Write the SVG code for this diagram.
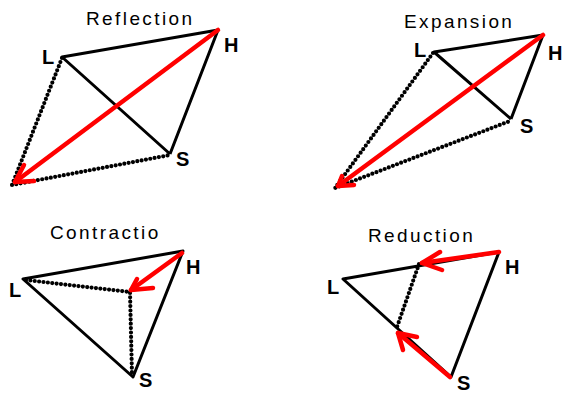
<svg xmlns="http://www.w3.org/2000/svg" width="562" height="394" viewBox="0 0 562 394">
<style>
.t{font-family:"Liberation Sans",Arial,sans-serif;font-size:19px;letter-spacing:2.4px;fill:#000}
.v{font-family:"Liberation Sans",Arial,sans-serif;font-size:20px;font-weight:bold;fill:#000}
.e{stroke:#000;stroke-width:3;fill:none;stroke-linejoin:round}
.d{stroke:#000;stroke-width:4.2;fill:none;stroke-linecap:round;stroke-dasharray:0 4.4}
.r{stroke:#f00;stroke-width:4.5;fill:none;stroke-linecap:round;stroke-linejoin:round}
</style>
<rect width="562" height="394" fill="#fff"/>
<g id="reflection">
<text class="t" x="86" y="25">Reflection</text>
<polyline class="e" points="170,154 62,57 218,30 170,154"/>
<polyline class="d" points="62,58 12,185 170,155"/>
<line class="r" x1="218" y1="30" x2="15" y2="182"/>
<polyline class="r" points="24,165 15,182 34,181"/>
<text class="v" x="42" y="64">L</text>
<text class="v" x="224" y="52">H</text>
<text class="v" x="176" y="166">S</text>
</g>
<g id="expansion">
<text class="t" x="404" y="28">Expansion</text>
<polyline class="e" points="511,119 434,52 543,35 511,119"/>
<polyline class="d" points="433,53 335,188 510,121"/>
<line class="r" x1="543" y1="35" x2="338" y2="186"/>
<polyline class="r" points="342,176 338,186 354,185"/>
<text class="v" x="414" y="57">L</text>
<text class="v" x="548" y="60">H</text>
<text class="v" x="520" y="133">S</text>
</g>
<g id="contraction">
<text class="t" x="50" y="239">Contractio</text>
<polygon class="e" points="23,279 183,251 133,377"/>
<polyline class="d" points="26,280 130,292 132,375"/>
<line class="r" x1="182" y1="253" x2="131" y2="290"/>
<polyline class="r" points="137,279 131,290 153,288"/>
<text class="v" x="9" y="297">L</text>
<text class="v" x="186" y="274">H</text>
<text class="v" x="139" y="387">S</text>
</g>
<g id="reduction">
<text class="t" x="368" y="242">Reduction</text>
<polygon class="e" points="343,279 499,252 451,377"/>
<line class="d" x1="419" y1="264" x2="397" y2="327"/>
<line class="r" x1="499" y1="252" x2="422" y2="263"/>
<polyline class="r" points="440,252 422,263 442,270"/>
<line class="r" x1="450" y1="377" x2="398" y2="333"/>
<polyline class="r" points="417,337 398,333 403,350"/>
<text class="v" x="327" y="294">L</text>
<text class="v" x="505" y="274">H</text>
<text class="v" x="457" y="390">S</text>
</g>
</svg>
